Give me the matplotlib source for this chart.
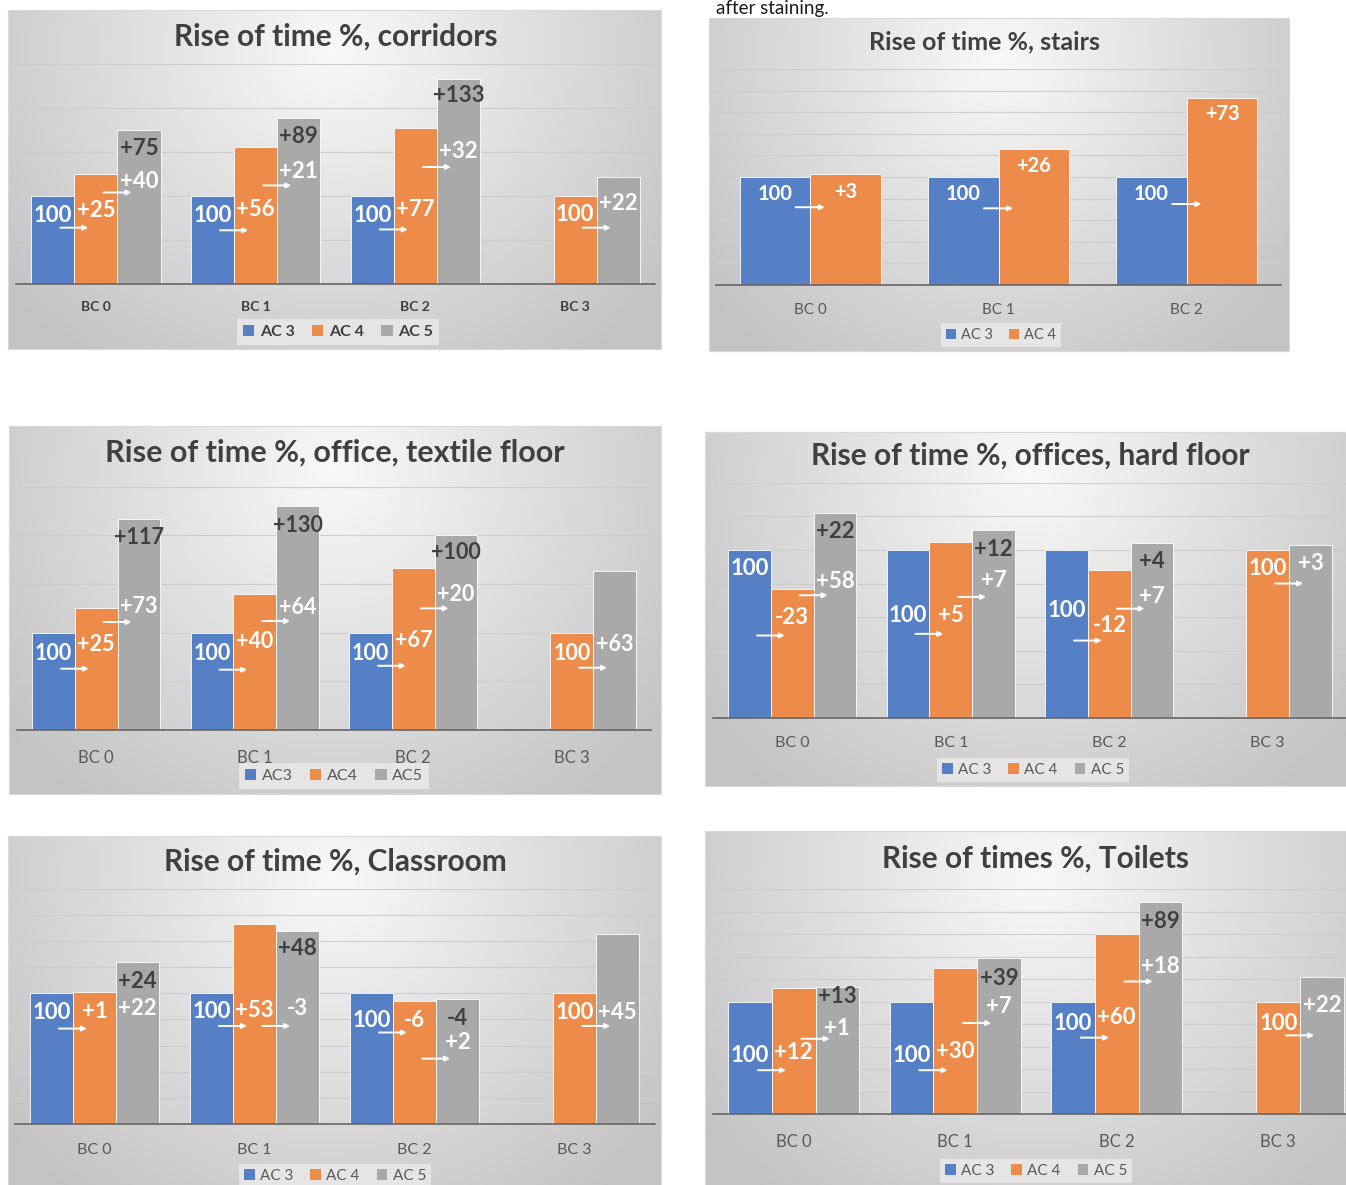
import numpy as np
import matplotlib
matplotlib.use('Agg')
import matplotlib.pyplot as plt
from matplotlib.patches import Patch

plt.rcParams['font.family'] = ['Lato', 'DejaVu Sans']

nan = np.nan
W, H = 1346, 1185

# ---------------- DATA ----------------
cats4 = ['BC 0', 'BC 1', 'BC 2', 'BC 3']
cats3 = ['BC 0', 'BC 1', 'BC 2']
names_sp = ['AC 3', 'AC 4', 'AC 5']
names_ns = ['AC3', 'AC4', 'AC5']

# corridors
corr_ac3 = [100, 100, 100, nan]
corr_ac4 = [125, 156, 177, 100]
corr_ac5 = [175, 189, 233, 122]
corr_l3 = ['100', '100', '100', '']
corr_l4 = ['+25', '+56', '+77', '100']
corr_l5a = ['+40', '+21', '+32', '+22']
corr_l5b = ['+75', '+89', '+133', '']

# stairs
stair_ac3 = [100, 100, 100]
stair_ac4 = [103, 126, 173]
stair_l3 = ['100', '100', '100']
stair_l4 = ['+3', '+26', '+73']

# office, textile floor
text_ac3 = [100, 100, 100, nan]
text_ac4 = [125, 140, 167, 100]
text_ac5 = [217, 230, 200, 163]
text_l3 = ['100', '100', '100', '']
text_l4 = ['+25', '+40', '+67', '100']
text_l5a = ['+73', '+64', '+20', '+63']
text_l5b = ['+117', '+130', '+100', '']

# offices, hard floor
hard_ac3 = [100, 100, 100, nan]
hard_ac4 = [77, 105, 88, 100]
hard_ac5 = [122, 112, 104, 103]
hard_l3 = ['100', '100', '100', '']
hard_l4 = ['-23', '+5', '-12', '100']
hard_l5a = ['+58', '+7', '+7', '+3']
hard_l5b = ['+22', '+12', '+4', '']

# classroom
class_ac3 = [100, 100, 100, nan]
class_ac4 = [101, 153, 94, 100]
class_ac5 = [124, 148, 96, 145]
class_l3 = ['100', '100', '100', '']
class_l4 = ['+1', '+53', '-6', '100']
class_l5a = ['+22', '-3', '+2', '+45']
class_l5b = ['+24', '+48', '-4', '']

# toilets
toil_ac3 = [100, 100, 100, nan]
toil_ac4 = [112, 130, 160, 100]
toil_ac5 = [113, 139, 189, 122]
toil_l3 = ['100', '100', '100', '']
toil_l4 = ['+12', '+30', '+60', '100']
toil_l5a = ['+1', '+7', '+18', '+22']
toil_l5b = ['+13', '+39', '+89', '']

# ---------------- STYLE / LAYOUT ----------------
COLORS = ['#5580C6', '#EC8B4A', '#A9A9A9']
WHITE = '#ffffff'
DARK = '#404040'


def gradient(h=300, w=400):
    yy, xx = np.mgrid[0:1:h * 1j, 0:1:w * 1j]
    dx = (xx - 0.5) / 0.5
    dy = (yy - 0.12) / 0.88
    r = np.clip(np.sqrt(dx ** 2 + dy ** 2) / 1.3, 0, 1)
    g = 0.975 - 0.21 * r
    return np.dstack([g, g, g])


GRAD = gradient()

fig = plt.figure(figsize=(W / 100, H / 100), dpi=100)
fig.patch.set_facecolor('white')


def rect(x0, y0, x1, y1):
    return [x0 / W, 1 - y1 / H, (x1 - x0) / W, (y1 - y0) / H]


def panel(frame, plot, ymax, ystep, title, title_xy, title_size, cats, series,
          names, texts, ypos, tick_d, tick_size, tick_bold, leg_xy, leg_size,
          leg_bold, lab_size, bw, alen):
    # background with radial gradient
    bg = fig.add_axes(rect(*frame), zorder=0)
    bg.imshow(GRAD, extent=[0, 1, 0, 1], aspect='auto', origin='upper')
    bg.set_xlim(0, 1)
    bg.set_ylim(0, 1)
    bg.set_xticks([])
    bg.set_yticks([])
    for s in bg.spines.values():
        s.set_color('#d9d9d9')
        s.set_linewidth(0.8)

    x0, ybase, x1, ytop = plot
    ax = fig.add_axes(rect(x0, ytop, x1, ybase), zorder=1)
    ax.patch.set_alpha(0)
    n = len(cats)
    ns = len(series)
    xs = np.arange(n)
    offs = [(i - (ns - 1) / 2) * bw for i in range(ns)]
    for i, vals in enumerate(series):
        v = np.array(vals, dtype=float)
        m = ~np.isnan(v)
        ax.bar(xs[m] + offs[i], v[m], bw, color=COLORS[i], edgecolor='white',
               linewidth=0.6, zorder=3)
    ax.set_xlim(-0.5, n - 0.5)
    ax.set_ylim(0, ymax)
    ax.set_yticks(np.arange(ystep, ymax + 0.1, ystep))
    ax.yaxis.grid(True, color='#cdcdcd', linewidth=0.8)
    ax.set_axisbelow(True)
    ax.tick_params(axis='y', length=0, labelleft=False)
    for k in ['left', 'right', 'top']:
        ax.spines[k].set_visible(False)
    ax.spines['bottom'].set_color('#666666')
    ax.spines['bottom'].set_linewidth(1.2)
    ax.spines['bottom'].set_zorder(4)
    ax.set_xticks(xs)
    ax.set_xticklabels(cats, fontweight='bold' if tick_bold else 'normal')
    ax.tick_params(axis='x', length=0, labelsize=tick_size,
                   labelcolor=DARK if tick_bold else '#595959',
                   pad=0.72 * tick_d - 0.55 * tick_size)

    # data labels
    for key, sidx, col in [('l3', 0, WHITE), ('l4', 1, WHITE),
                           ('l5a', 2, WHITE), ('l5b', 2, DARK)]:
        if key not in texts:
            continue
        for c in range(n):
            t = texts[key][c]
            y = ypos[key][c]
            if t and not np.isnan(y):
                ax.text(c + offs[sidx], y, t, ha='center', va='center',
                        color=col, fontsize=lab_size, fontweight='bold',
                        zorder=6)
    # arrows
    for key, a, b in [('a1', 0, 1), ('a2', 1, 2)]:
        if key not in ypos:
            continue
        for c in range(n):
            y = ypos[key][c]
            if np.isnan(y):
                continue
            xc = c + (offs[a] + offs[b]) / 2
            ax.annotate('', xy=(xc + alen / 2, y), xytext=(xc - alen / 2, y),
                        arrowprops=dict(arrowstyle='-|>', color='white',
                                        lw=1.4, mutation_scale=7,
                                        shrinkA=0, shrinkB=0),
                        zorder=7)

    fig.text(title_xy[0] / W, 1 - title_xy[1] / H, title, ha='center',
             va='center', fontsize=title_size, fontweight='bold', color=DARK,
             zorder=5)

    handles = [Patch(facecolor=COLORS[i], edgecolor='none') for i in range(ns)]
    leg = fig.legend(handles, names[:ns], loc='center',
                     bbox_to_anchor=(leg_xy[0] / W, 1 - leg_xy[1] / H),
                     ncol=ns, frameon=True, fancybox=False,
                     prop=dict(size=leg_size,
                               weight='bold' if leg_bold else 'normal'),
                     handlelength=0.7, handleheight=0.7, handletextpad=0.35,
                     columnspacing=1.1, borderpad=0.35, borderaxespad=0)
    leg.get_frame().set_facecolor('#e8e8e8')
    leg.get_frame().set_edgecolor('none')
    leg.get_frame().set_alpha(0.9)
    for t in leg.get_texts():
        t.set_color(DARK if leg_bold else '#595959')
    leg.set_zorder(5)


# corridors
panel((8, 10, 661, 349), (16, 284, 655, 64), 250, 50,
      'Rise of time %, corridors', (336, 37), 21.5, cats4,
      [corr_ac3, corr_ac4, corr_ac5], names_sp,
      dict(l3=corr_l3, l4=corr_l4, l5a=corr_l5a, l5b=corr_l5b),
      dict(l3=[78, 78, 78, nan], l4=[84, 85, 85, 79],
           l5a=[117, 128, 150, 92], l5b=[154, 168, 214, nan],
           a1=[64, 61, 62, nan], a2=[104, 112, 133, 64]),
      24.5, 10, True, (338, 332), 11.5, True, 16, 0.27, 0.175)

# stairs
panel((709, 18, 1289, 351), (716, 285, 1281, 69), 200, 20,
      'Rise of time %, stairs', (985, 42), 18, cats3,
      [stair_ac3, stair_ac4], names_sp,
      dict(l3=stair_l3, l4=stair_l4),
      dict(l3=[84, 84, 84], l4=[86, 110, 158], a1=[72, 71, 75]),
      26.5, 11, False, (1001, 335), 10.5, False, 14.5, 0.375, 0.155)

# office, textile floor
panel((9, 426, 661, 794), (17, 730, 651, 486.75), 250, 50,
      'Rise of time %, office, textile floor', (334.5, 453), 22, cats4,
      [text_ac3, text_ac4, text_ac5], names_ns,
      dict(l3=text_l3, l4=text_l4, l5a=text_l5a, l5b=text_l5b),
      dict(l3=[79, 79, 79, nan], l4=[88, 91, 92, 79],
           l5a=[127, 126, 139, 88], l5b=[198, 210, 182, nan],
           a1=[63, 62, 66, nan], a2=[111, 112, 125, 64]),
      29.5, 12, False, (334, 776), 11.5, False, 15.5, 0.27, 0.175)

# offices, hard floor
panel((705, 432, 1356, 786), (713, 717.7, 1347, 482.9), 140, 20,
      'Rise of time %, offices, hard floor', (1030, 456), 21.5, cats4,
      [hard_ac3, hard_ac4, hard_ac5], names_sp,
      dict(l3=hard_l3, l4=hard_l4, l5a=hard_l5a, l5b=hard_l5b),
      dict(l3=[89, 61, 64, nan], l4=[60, 61, 55, 89],
           l5a=[81, 82, 72, 92], l5b=[111, 100, 93, nan],
           a1=[49, 50, 46, nan], a2=[73, 72, 65, 80]),
      27, 11.5, False, (1033, 770), 11, False, 16, 0.27, 0.175)

# classroom
panel((8, 836, 661, 1192), (14.5, 1124, 654.5, 888.7), 180, 20,
      'Rise of time %, Classroom', (335, 862), 21.5, cats4,
      [class_ac3, class_ac4, class_ac5], names_sp,
      dict(l3=class_l3, l4=class_l4, l5a=class_l5a, l5b=class_l5b),
      dict(l3=[85, 86, 79, nan], l4=[86, 87, 79, 85],
           l5a=[88, 88, 62, 85], l5b=[109, 134, 81, nan],
           a1=[73, 75, 70, nan], a2=[nan, 75, 50, 75]),
      28, 11.5, False, (335, 1176), 11, False, 16, 0.27, 0.175)

# toilets
panel((705, 831, 1367, 1192), (713, 1114, 1359, 889.4), 200, 20,
      'Rise of times %, Toilets', (1036, 859), 21.5, cats4,
      [toil_ac3, toil_ac4, toil_ac5], names_sp,
      dict(l3=toil_l3, l4=toil_l4, l5a=toil_l5a, l5b=toil_l5b),
      dict(l3=[52, 52, 81, nan], l4=[55, 56, 86, 81],
           l5a=[76, 96, 131, 97], l5b=[105, 121, 171, nan],
           a1=[39, 39, 68, nan], a2=[67, 81, 118, 70]),
      29.5, 12, False, (1036, 1171), 11, False, 16, 0.27, 0.175)

# caption text from the page above the charts (cropped in the source)
fig.text(772 / W, 1 - 14 / H, 'after staining.', ha='center', va='baseline',
         fontsize=13.5, color='#1a1a1a')

fig.savefig('out.png', dpi=100, facecolor='white')
